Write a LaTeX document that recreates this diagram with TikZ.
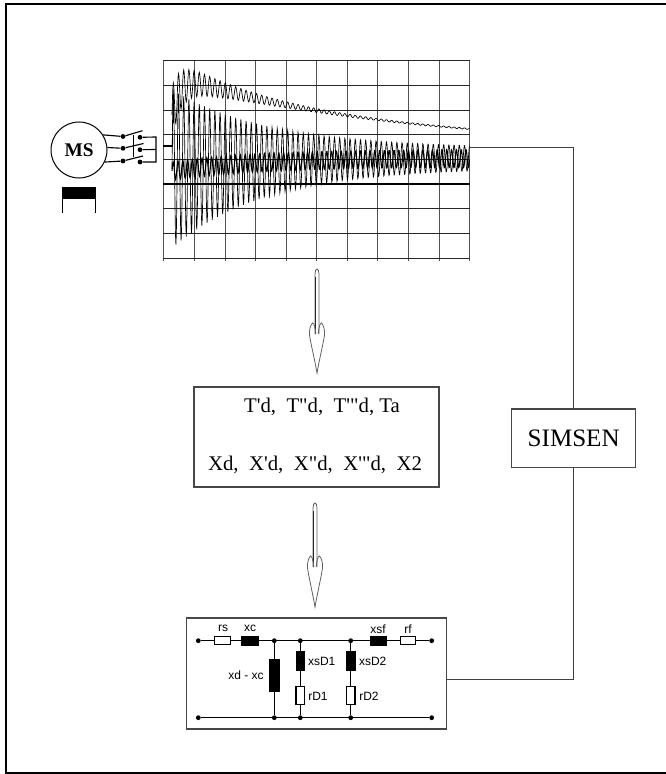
\documentclass[tikz,border=0pt]{standalone}
\usepackage{fontspec}
\newfontfamily\tfont{Liberation Serif}
\newfontfamily\tbold{Liberation Serif Bold}
\newfontfamily\hfont{Liberation Sans}
\usetikzlibrary{calc}
\tikzset{
  frameline/.style={line width=1.5pt,black},
  gridv/.style={line width=0.75pt,black!68},
  gridh/.style={line width=0.75pt,black!85},
  wave/.style={line width=0.5pt,black},
  wire/.style={line width=0.85pt,black},
  link/.style={line width=0.7pt,black!75},
  paper/.style={draw=black!72,line width=0.8pt,fill=white,inner sep=0pt},
  bigtext/.style={font=\tfont\fontsize{15.6}{18}\selectfont,inner sep=0pt},
  lbl/.style={font=\hfont\fontsize{9}{10}\selectfont,inner sep=0pt},
  dotn/.style={circle,fill=black,inner sep=0pt,minimum size=3.6pt},
  resw/.style={draw=black,line width=0.85pt,fill=white,inner sep=0pt},
  resb/.style={draw=black,fill=black,inner sep=0pt},
  hollow/.style={line width=0.6pt,black!62},
}
\newcommand{\hollowarrow}[4]{% x, top, lobe top, tip
  \draw[hollow] (#1-2,#3+11) -- (#1-2,#2+5) .. controls (#1-2,#2+2) and (#1-1,#2) .. (#1,#2)
     .. controls (#1+1,#2) and (#1+2,#2+2) .. (#1+2,#2+5) -- (#1+2,#3+11);
  \draw[line width=0.7pt,black!85] (#1-1.6,#3+11) -- (#1-1.6,#2+8);
  \draw[hollow] (#1-1.2,#3+11) .. controls (#1-1.6,#3+5) and (#1-3,#3) .. (#1-4.5,#3)
     .. controls (#1-6.5,#3+2) and (#1-8,#3+7) .. (#1-7.5,#3+12)
     .. controls (#1-6.8,#3+18) and (#1-2,#4-12) .. (#1,#4)
     .. controls (#1+2,#4-12) and (#1+6.8,#3+18) .. (#1+7.5,#3+12)
     .. controls (#1+8,#3+7) and (#1+6.5,#3+2) .. (#1+4.5,#3)
     .. controls (#1+3,#3) and (#1+1.6,#3+5) .. (#1+1.2,#3+11);
}
\begin{document}
\begin{tikzpicture}[x=0.75pt,y=-0.75pt,
  declare function={
    lowA(\q)=10+69*exp(-(\q-172)/95);
    lowC(\q)=158+11*exp(-(\q-172)/80);
    upC(\q)=145-64*exp(-(\q-193)/200)+41*exp(-(\q-172)/8);
    upA(\q)=0.5+12.5*exp(-(\q-193)/60)+10*exp(-(\q-172)/8);
    phs(\q)=sin(69.2308*mod(\q-172,5.2));
    pht(\q)=sin(75*mod(\q-172,4.8));
  }]
\useasboundingbox (0,0) rectangle (665,774);
\fill[white] (0,0) rectangle (665,774);
% outer frame
\draw[frameline] (666,4) -- (5.7,4) -- (5.7,772.7) -- (666,772.7);
% chart
\node[minimum width=229.6pt,minimum height=148.1pt,inner sep=0pt] (chart) at (316.3,159.3) {};
\foreach \gx in {163,194,225,255,286,316.7,347.3,377.7,408.3,439.3,469.3}
  \draw[gridv] (\gx,60.5) -- (\gx,261);
\foreach \gy in {60.5,85.5,110.3,134.5,159,208.3,233,258}
  \draw[gridh] (163,\gy) -- (469.5,\gy);
\draw[line width=1.3pt,black] (163,184) -- (469.5,184);
\draw[line width=0.9pt] (163,146) -- (172.5,146) -- (172.5,133);
\draw[line width=1.1pt] (173.5,103) -- (173.5,123);
\draw[wave] plot[domain=172:469.5,samples=688] (\x,{upC(\x)-upA(\x)*phs(\x)});
\draw[wave] plot[domain=172:469.5,samples=688] (\x,{lowC(\x)-lowA(\x)*phs(\x)});
\draw[line width=0.8pt,black] plot[domain=172:469.5,samples=744] (\x,{lowC(\x)+2*exp(-(\x-172)/150)-min(9,lowA(\x))*pht(\x)});
% motor
\node[draw,circle,line width=0.75pt,minimum size=42pt,inner sep=0pt,
      font=\tbold\fontsize{14.5}{15}\selectfont] (ms) at (79,150) {MS};
\node[dotn] (a1) at (123,136.5) {};
\node[dotn] (a2) at (123,148.3) {};
\node[dotn] (a3) at (123,161) {};
\node[dotn] (b1) at (140,137.3) {};
\node[dotn] (b2) at (140,149.7) {};
\node[dotn] (b3) at (140,162) {};
\coordinate (t1) at (142.5,130.7);
\coordinate (t2) at (143.5,143.5);
\coordinate (t3) at (143,156);
\coordinate (s1) at (156,137);
\coordinate (s2) at (156,149.5);
\coordinate (s3) at (156,162);
\draw[wire] (ms.32) -- (a1);
\draw[wire] (ms.5) -- (a2);
\draw[wire] (ms.-25) -- (a3);
\draw[wire] (a1) -- (t1);
\draw[wire] (a2) -- (t2);
\draw[wire] (a3) -- (t3);
\draw[wire] (133.5,135) -- (133.5,157);
\draw[wire] (b1) -- (s1) -- (s2) -- (s3) -- (b3);
\draw[wire] (b2) -- (s2);
% exciter block
\fill[black] (62,186.7) rectangle (96,199.3);
\draw[line width=0.7pt] (62.5,199) -- (62.5,213);
\draw[line width=0.7pt] (95,199) -- (95,213);
% arrows
\hollowarrow{317}{269}{323}{373}
\hollowarrow{315}{503}{556}{607}
% parameter box
\node[paper,minimum width=183.75pt,minimum height=75pt] (params) at (316.5,437) {};
\node[bigtext] (tline) at (322,407) {T'd,\ \ T"d,\ \ T'"d, Ta};
\node[bigtext] (xline) at (315,465) {Xd,\ \ X'd,\ \ X"d,\ \ X'"d,\ \ X2};
% circuit box
\node[paper,minimum width=194.6pt,minimum height=83.25pt] (circuit) at (316.3,673.5) {};
\coordinate (circuitout) at (446,679);
\coordinate (chartout) at (470,147);
% SIMSEN
\node[paper,minimum width=93pt,minimum height=44pt,
      font=\tfont\fontsize{18.8}{20}\selectfont] (simsen) at (573.7,438.3) {SIMSEN};
\draw[link] (chartout) -| (simsen.north);
\draw[link] (simsen.south) |- (circuitout);
% circuit contents
\node[dotn] (tl) at (198.3,640.7) {};
\node[dotn] (tr) at (431.7,640.7) {};
\node[dotn] (j1) at (274.3,640.7) {};
\node[dotn] (j2) at (300.3,640.7) {};
\node[dotn] (j3) at (350.7,640.7) {};
\node[dotn] (bl) at (198.3,717.7) {};
\node[dotn] (br) at (431.7,717.7) {};
\node[dotn] (k1) at (274.3,717.7) {};
\node[dotn] (k2) at (300.3,717.7) {};
\node[dotn] (k3) at (350.7,717.7) {};
\draw[wire] (tl) -- (tr);
\draw[wire] (bl) -- (br);
\draw[wire] (j1) -- (k1);
\draw[wire] (j2) -- (k2);
\draw[wire] (j3) -- (k3);
\node[resw,minimum width=12pt,minimum height=6.2pt] (rs) at (222.5,640.7) {};
\node[resb,minimum width=12.6pt,minimum height=6.6pt] (xc) at (249.5,640.7) {};
\node[resb,minimum width=12.2pt,minimum height=6.6pt] (xsf) at (378,640.7) {};
\node[resw,minimum width=11.4pt,minimum height=6.2pt] (rf) at (408.3,640.7) {};
\node[resb,minimum width=7pt,minimum height=23.8pt] (xdc) at (274.3,675.2) {};
\node[resb,minimum width=6.6pt,minimum height=14.2pt] (xsD1) at (300.3,661.2) {};
\node[resb,minimum width=6.6pt,minimum height=14.2pt] (xsD2) at (350.7,661.2) {};
\node[resw,minimum width=6.4pt,minimum height=13.6pt] (rD1) at (300.3,695.8) {};
\node[resw,minimum width=6.4pt,minimum height=13.6pt] (rD2) at (350.7,695.8) {};
\node[lbl] (lrs) at (223,628) {rs};
\node[lbl] (lxc) at (250,628) {xc};
\node[lbl] (lxsf) at (378,629) {xsf};
\node[lbl] (lrf) at (408,629) {rf};
\node[lbl] (lxd) at (246,675) {xd - xc};
\node[lbl] (lxsD1) at (321.7,661.7) {xsD1};
\node[lbl] (lxsD2) at (372.7,661.7) {xsD2};
\node[lbl] (lrD1) at (318,696) {rD1};
\node[lbl] (lrD2) at (369,696) {rD2};
\end{tikzpicture}
\end{document}
